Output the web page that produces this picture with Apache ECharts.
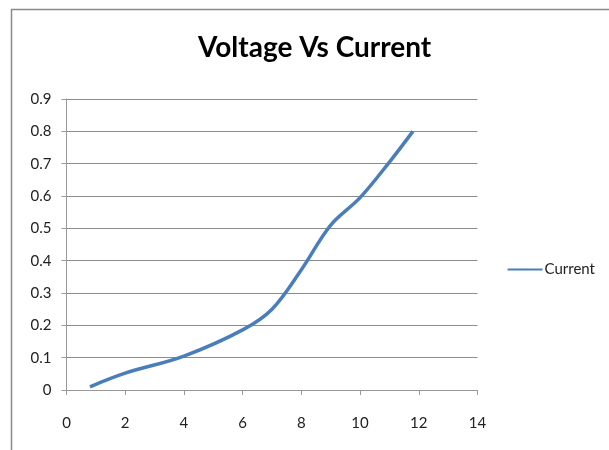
<!DOCTYPE html>
<html><head><meta charset="utf-8">
<script src="https://cdn.jsdelivr.net/npm/echarts@6/dist/echarts.min.js"></script>
<style>html,body{margin:0;padding:0;background:#fff}#c{width:609px;height:450px}</style>
</head><body><div id="c"></div>
<script>
const voltage = [0.8, 2, 4, 6, 7, 8, 9, 10, 11, 11.8];
const current = [0.01, 0.052, 0.105, 0.186, 0.25, 0.372, 0.51, 0.595, 0.705, 0.80];
const xTicks = [0, 14, 2];
const yTicks = [0, 0.9, 0.1];
const seriesName = 'Current';
const titleText = 'Voltage Vs Current';

const chart = echarts.init(document.getElementById('c'));
const font = 'Lato, "Open Sans", sans-serif';
chart.setOption({
  animation: false,
  title: { text: titleText, left: 198, top: 34, padding: 0,
    textStyle: { fontFamily: font, fontWeight: 'bold', fontSize: 28, color: '#000' } },
  graphic: [{ type: 'rect', shape: { x: 11.5, y: 9.5, width: 800, height: 600 },
    style: { fill: 'none', stroke: '#8a8a8a', lineWidth: 1.5 }, silent: true }],
  legend: { right: 9, top: 257, itemWidth: 35, itemHeight: 10, itemGap: 2,
    icon: 'path://M0,4 L35,4 L35,6 L0,6 Z',
    textStyle: { fontFamily: font, fontSize: 15, color: '#222', padding: [0,0,0,-3] },
    data: [seriesName] },
  grid: { left: 66.5, right: 131.5, top: 99, bottom: 60, containLabel: false },
  xAxis: { type: 'value', min: xTicks[0], max: xTicks[1], interval: xTicks[2],
    axisLine: { lineStyle: { color: '#999', width: 1 } },
    axisTick: { show: true, length: 5, lineStyle: { color: '#999' } },
    splitLine: { show: false },
    axisLabel: { margin: 26, fontFamily: font, fontSize: 15, color: '#222' } },
  yAxis: { type: 'value', min: yTicks[0], max: yTicks[1], interval: yTicks[2],
    axisLine: { show: true, lineStyle: { color: '#999', width: 1 } },
    axisTick: { show: true, length: 5, lineStyle: { color: '#999' } },
    splitLine: { show: true, lineStyle: { color: '#8c8c8c', width: 1 } },
    axisLabel: { margin: 15, fontFamily: font, fontSize: 15, color: '#222',
      formatter: v => (Math.round(v*10)/10).toString() } },
  series: [{ name: seriesName, type: 'line', smooth: 0.35, showSymbol: false,
    lineStyle: { color: '#4a7ebb', width: 3.5 }, itemStyle: { color: '#4a7ebb' },
    data: voltage.map((v, i) => [v, current[i]]) }]
});
</script></body></html>
